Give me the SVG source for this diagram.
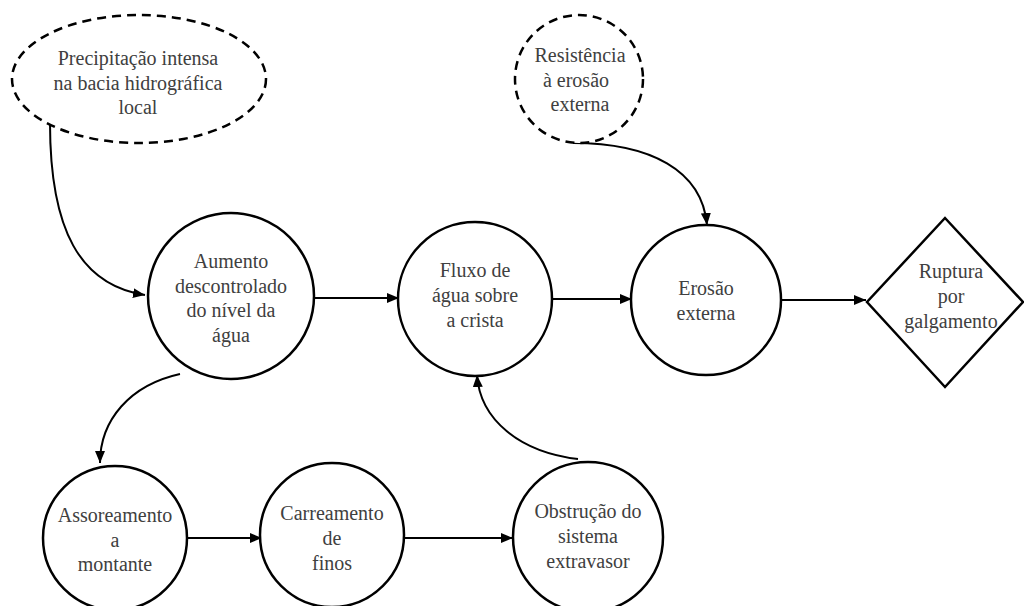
<svg xmlns="http://www.w3.org/2000/svg" width="1024" height="606" viewBox="0 0 1024 606">
<style>
.n{fill:#fff;stroke:#000;stroke-width:2.5}
.d{fill:#fff;stroke:#000;stroke-width:2.5;stroke-dasharray:9 6}
.t{font-family:"Liberation Serif","Times New Roman",serif;font-size:20px;fill:#404040;text-anchor:middle}
.c{fill:none;stroke:#000;stroke-width:2}
</style>
<defs>
<marker id="ah" viewBox="0 0 12 10" refX="12" refY="5" markerWidth="12" markerHeight="10" markerUnits="userSpaceOnUse" orient="auto">
<path d="M0,0 L12,5 L0,10 Z" fill="#000"/>
</marker>
</defs>
<g id="connectors">
<path class="c" d="M50,123 C50,230 80,285 145,295" marker-end="url(#ah)"/>
<path class="c" d="M315,298 L399,298" marker-end="url(#ah)"/>
<path class="c" d="M550,299 L632,299" marker-end="url(#ah)"/>
<path class="c" d="M780,300 L866,300" marker-end="url(#ah)"/>
<path class="c" d="M573,143 C650,143 702,170 707,225" marker-end="url(#ah)"/>
<path class="c" d="M180,374 C130,385 100,420 100,463" marker-end="url(#ah)"/>
<path class="c" d="M185,538 L262,538" marker-end="url(#ah)"/>
<path class="c" d="M402,538 L513,538" marker-end="url(#ah)"/>
<path class="c" d="M578,459 C520,452 480,420 477,375" marker-end="url(#ah)"/>
</g>
<g id="precipitacao">
<ellipse class="d" cx="139" cy="79" rx="127" ry="64"/>
<text class="t" x="138" y="65">Precipitação intensa</text>
<text class="t" x="138" y="90">na bacia hidrográfica</text>
<text class="t" x="138" y="114">local</text>
</g>
<g id="resistencia">
<circle class="d" cx="579" cy="79" r="64"/>
<text class="t" x="580" y="62">Resistência</text>
<text class="t" x="576" y="87">à erosão</text>
<text class="t" x="580" y="111">externa</text>
</g>
<g id="aumento">
<circle class="n" cx="231" cy="296" r="83"/>
<text class="t" x="231" y="268">Aumento</text>
<text class="t" x="231" y="293">descontrolado</text>
<text class="t" x="231" y="317">do nível da</text>
<text class="t" x="231" y="342">água</text>
</g>
<g id="fluxo">
<circle class="n" cx="475" cy="299" r="77"/>
<text class="t" x="475" y="277">Fluxo de</text>
<text class="t" x="475" y="302">água sobre</text>
<text class="t" x="475" y="327">a crista</text>
</g>
<g id="erosao">
<circle class="n" cx="706" cy="300" r="75"/>
<text class="t" x="706" y="295">Erosão</text>
<text class="t" x="706" y="320">externa</text>
</g>
<g id="ruptura">
<polygon class="n" points="945,218 1023,302 945,387 867,302"/>
<text class="t" x="951" y="278">Ruptura</text>
<text class="t" x="951" y="303">por</text>
<text class="t" x="951" y="328">galgamento</text>
</g>
<g id="assoreamento">
<circle class="n" cx="115" cy="538" r="72"/>
<text class="t" x="115" y="522">Assoreamento</text>
<text class="t" x="115" y="547">a</text>
<text class="t" x="115" y="571">montante</text>
</g>
<g id="carreamento">
<circle class="n" cx="332" cy="535" r="72"/>
<text class="t" x="332" y="520">Carreamento</text>
<text class="t" x="332" y="545">de</text>
<text class="t" x="332" y="570">finos</text>
</g>
<g id="obstrucao">
<circle class="n" cx="588" cy="537" r="75"/>
<text class="t" x="588" y="518">Obstrução do</text>
<text class="t" x="588" y="543">sistema</text>
<text class="t" x="588" y="568">extravasor</text>
</g>
</svg>
